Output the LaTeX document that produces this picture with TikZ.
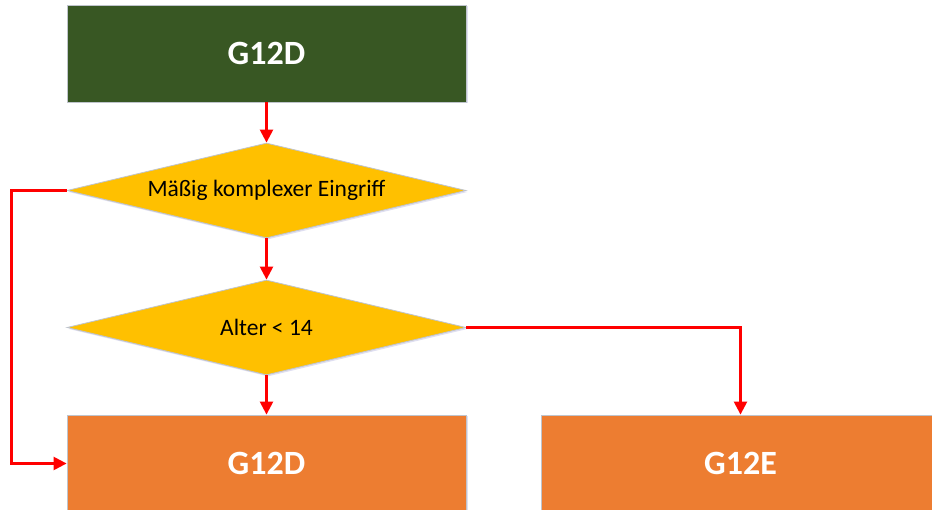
\documentclass[tikz,border=0pt]{standalone}
\usepackage{fontspec}
\setmainfont{Carlito}
\usepackage{tikz}
\usetikzlibrary{arrows.meta}
\usetikzlibrary{shapes.geometric}
\usetikzlibrary{shadows}

\definecolor{boxgreen}{HTML}{385723}
\definecolor{boxorange}{HTML}{ED7D31}
\definecolor{decgold}{HTML}{FFC000}
\definecolor{edgegray}{HTML}{BFC4CC}

\tikzset{
    groupbox/.style={rectangle, draw=edgegray, line width=0.8pt, inner sep=0pt,
        minimum width=399pt, minimum height=97pt, text=white,
        font=\fontsize{34}{38}\selectfont\bfseries,
        drop shadow={opacity=0.18, shadow xshift=1.5pt, shadow yshift=-1.5pt, fill=blue!40!gray}},
    decision/.style={diamond, draw=edgegray, line width=0.8pt, fill=decgold, inner sep=0pt,
        aspect=4.2, minimum width=399pt, minimum height=95pt,
        font=\fontsize{23.5}{27}\selectfont,
        drop shadow={opacity=0.18, shadow xshift=1.5pt, shadow yshift=-1.5pt, fill=blue!40!gray}},
    flow/.style={draw=red, line width=2.4pt, -{Triangle[length=13pt, width=13pt]}},
}

\begin{document}
\begin{tikzpicture}[x=1pt, y=1pt]
    \useasboundingbox (0, 0) rectangle (932, 510);
    \node[groupbox, fill=boxgreen] (start) at (266.5, 456.5) {G12D};
    \node[decision] (complex) at (266.5, 319.5) {Mäßig komplexer Eingriff};
    \node[decision] (age) at (266.5, 182.5) {Alter < 14};
    \node[groupbox, fill=boxorange] (resd) at (266.5, 46.5) {G12D};
    \node[groupbox, fill=boxorange] (rese) at (740.5, 46.5) {G12E};

    % connectors
    \draw[flow] (start.south) -- (complex.north);
    \draw[flow] (complex.south) -- (age.north);
    \draw[flow] (age.south) -- (resd.north);
    \draw[flow] (complex.west) -- ++(-55, 0) |- (resd.west);
    \draw[flow] (age.east) -| (rese.north);
\end{tikzpicture}
\end{document}
